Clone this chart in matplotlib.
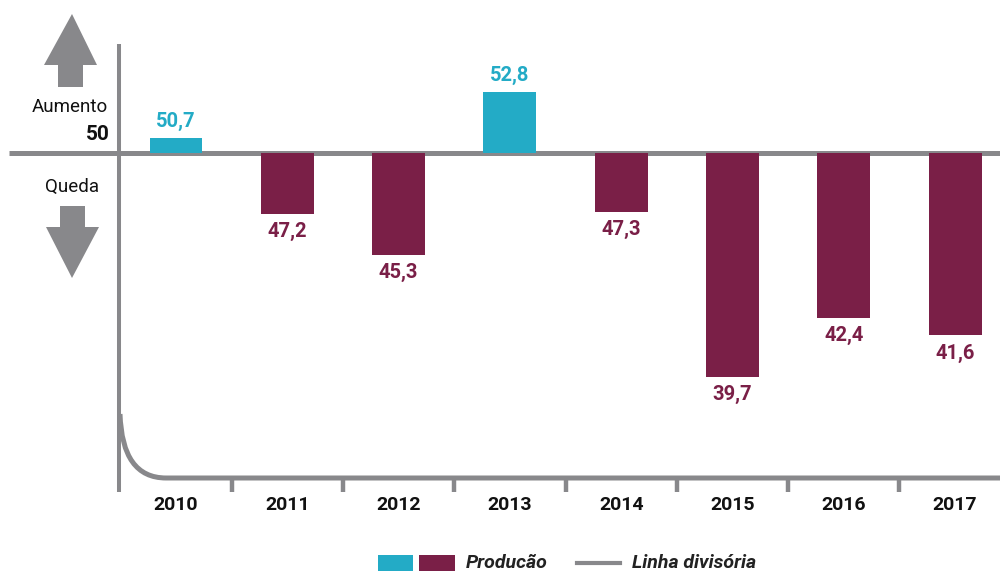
import matplotlib
matplotlib.use("Agg")
import matplotlib.pyplot as plt
from matplotlib.patches import Polygon, PathPatch, Rectangle
from matplotlib.path import Path
from matplotlib.transforms import blended_transform_factory
from matplotlib.lines import Line2D

anos = ['2010', '2011', '2012', '2013', '2014', '2015', '2016', '2017']
producao = [50.7, 47.2, 45.3, 52.8, 47.3, 39.7, 42.4, 41.6]
linha_divisoria = 50

azul = '#23abc6'
vinho = '#7a1f47'
cinza = '#88888b'

plt.rcParams['font.family'] = ['Roboto', 'DejaVu Sans']

fig = plt.figure(figsize=(10, 5.71), dpi=100)

# camada de desenho em pixels (setas, eixos, legenda)
deco = fig.add_axes([0, 0, 1, 1], zorder=1)
deco.set_xlim(0, 1000)
deco.set_ylim(571, 0)
deco.axis('off')

ax = fig.add_axes([0, 0, 1, 1], zorder=2)
ax.patch.set_alpha(0)
ax.axis('off')
# escala: centro 2010 em x=176px, passo 111.3px; 21.7px por ponto
ax.set_xlim(-176 / 111.3, (1000 - 176) / 111.3)
ax.set_ylim(linha_divisoria - (571 - 153) / 21.7, linha_divisoria + 153 / 21.7)

x = range(len(anos))
cores = [azul if v >= linha_divisoria else vinho for v in producao]
ax.bar(x, [v - linha_divisoria for v in producao], bottom=linha_divisoria,
       width=0.476, color=cores, zorder=2)

for i, v in enumerate(producao):
    txt = f'{v:.1f}'.replace('.', ',')
    if v >= linha_divisoria:
        ax.annotate(txt, (i, v), xytext=(0, 5), textcoords='offset points',
                    ha='center', va='bottom', color=azul, fontsize=14.5, fontweight='bold')
    else:
        ax.annotate(txt, (i, v), xytext=(0, -6), textcoords='offset points',
                    ha='center', va='top', color=vinho, fontsize=14.5, fontweight='bold')

# linha divisória
ax.plot([-1.5, 7.5], [linha_divisoria, linha_divisoria], color=cinza, lw=3.6,
        zorder=1, solid_capstyle='butt')

# eixo vertical e base curva
deco.plot([119, 119], [44, 492], color=cinza, lw=2.9, solid_capstyle='butt')
curva = Path([(120, 414), (122, 478), (166, 478), (1000, 478)],
             [Path.MOVETO, Path.CURVE3, Path.CURVE3, Path.LINETO])
deco.add_patch(PathPatch(curva, fill=False, edgecolor=cinza, lw=3.6))

blend = blended_transform_factory(ax.transData, deco.transData)
for i in range(len(anos) - 1):
    ax.plot([i + 0.5, i + 0.5], [478, 492], color=cinza, lw=3.2,
            transform=blend, solid_capstyle='butt')
for i, a in enumerate(anos):
    ax.text(i, 505, a, transform=blend, ha='center', va='center',
            fontsize=14, fontweight='bold', color='#111111')

# setas
deco.add_patch(Polygon([(72, 14), (97, 65), (83, 65), (83, 87), (58, 87), (58, 65), (44, 65)],
                       closed=True, color=cinza, lw=0))
deco.add_patch(Polygon([(60, 206), (85, 206), (85, 227), (99, 227), (72, 278), (46, 227), (60, 227)],
                       closed=True, color=cinza, lw=0))
deco.text(108, 107, 'Aumento', ha='right', va='center', fontsize=13.5, color='#111111')
deco.text(110, 135, '50', ha='right', va='center', fontsize=15, fontweight='bold', color='#111111')
deco.text(72, 187, 'Queda', ha='center', va='center', fontsize=13.5, color='#111111')

# legenda
deco.add_patch(Rectangle((378, 555), 35, 17, color=azul, lw=0))
deco.add_patch(Rectangle((419, 555), 36, 17, color=vinho, lw=0))
deco.text(466, 563, 'Producão', ha='left', va='center', fontsize=14,
          fontweight='bold', fontstyle='italic', color='#222222')
deco.add_line(Line2D([577, 620], [563, 563], color=cinza, lw=3))
deco.text(632, 563, 'Linha divisória', ha='left', va='center', fontsize=14,
          fontweight='bold', fontstyle='italic', color='#222222')

fig.savefig('out.png', dpi=100)
